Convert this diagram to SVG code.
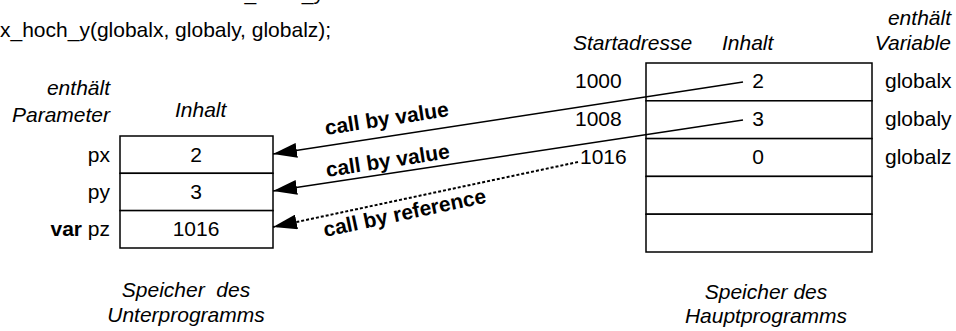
<svg xmlns="http://www.w3.org/2000/svg" width="956" height="331" viewBox="0 0 956 331">
  <style>
    text { font-family: "Liberation Sans", Arial, sans-serif; font-size: 21px; fill: #000; }
    .it { font-style: italic; }
    .b { font-weight: bold; }
    .mid { text-anchor: middle; }
    .end { text-anchor: end; }
    .cell { fill: #fff; stroke: #000; stroke-width: 1.5; }
    .wire { fill: none; stroke: #000; stroke-width: 1.5; }
    .dash { stroke-dasharray: 3 2; stroke-width: 2; }
  </style>
  <defs>
    <marker id="head" viewBox="0 0 24 15" refX="24" refY="7.5" markerWidth="24" markerHeight="15" markerUnits="userSpaceOnUse" orient="auto">
      <path d="M0,0 L24,7.5 L0,15 Z" fill="#000"/>
    </marker>
  </defs>

  <!-- call statement -->
  <g id="call">
    <text x="234" y="-0.5">x_hoch_y</text>
    <text x="0" y="37">x_hoch_y(globalx, globaly, globalz);</text>
  </g>

  <!-- memory of the subroutine -->
  <g id="sub-memory">
    <text class="it end" x="110" y="95">enthält</text>
    <text class="it end" x="110" y="122">Parameter</text>
    <text class="it" x="175" y="117">Inhalt</text>
    <rect class="cell" x="120" y="136" width="153" height="37.3"/>
    <rect class="cell" x="120" y="173.3" width="153" height="37.3"/>
    <rect class="cell" x="120" y="210.6" width="153" height="37.4"/>
    <text class="end" x="110" y="162">px</text>
    <text class="end" x="110" y="199">py</text>
    <text class="end" x="110" y="236"><tspan class="b">var</tspan> pz</text>
    <text class="mid" x="196" y="162">2</text>
    <text class="mid" x="196" y="199">3</text>
    <text class="mid" x="196" y="236">1016</text>
    <text class="it mid" x="186" y="297" xml:space="preserve">Speicher  des</text>
    <text class="it mid" x="186" y="322">Unterprogramms</text>
  </g>

  <!-- memory of the main program -->
  <g id="main-memory">
    <text class="it end" x="951" y="25">enthält</text>
    <text class="it end" x="951" y="50">Variable</text>
    <text class="it" x="573" y="50">Startadresse</text>
    <text class="it" x="722" y="50">Inhalt</text>
    <rect class="cell" x="646" y="63" width="226" height="37.8"/>
    <rect class="cell" x="646" y="100.8" width="226" height="37.8"/>
    <rect class="cell" x="646" y="138.6" width="226" height="37.8"/>
    <rect class="cell" x="646" y="176.4" width="226" height="37.8"/>
    <rect class="cell" x="646" y="214.2" width="226" height="37.8"/>
    <text x="575" y="88">1000</text>
    <text x="575" y="126">1008</text>
    <text x="580" y="164">1016</text>
    <text class="mid" x="758" y="88">2</text>
    <text class="mid" x="758" y="126">3</text>
    <text class="mid" x="758" y="164">0</text>
    <text x="885" y="88">globalx</text>
    <text x="885" y="126">globaly</text>
    <text x="885" y="164">globalz</text>
    <text class="it mid" x="766" y="299">Speicher des</text>
    <text class="it mid" x="766" y="323">Hauptprogramms</text>
  </g>

  <!-- parameter passing -->
  <g id="connectors">
    <line class="wire" x1="743" y1="82" x2="273" y2="154" marker-end="url(#head)"/>
    <line class="wire" x1="743" y1="120" x2="273" y2="191" marker-end="url(#head)"/>
    <line class="wire dash" x1="578" y1="162" x2="273" y2="227" marker-end="url(#head)"/>
    <text class="b" transform="translate(326,135) rotate(-8.7)">call by value</text>
    <text class="b" transform="translate(327,177) rotate(-8.7)">call by value</text>
    <text class="b" transform="translate(325,237) rotate(-12)">call by reference</text>
  </g>
</svg>
